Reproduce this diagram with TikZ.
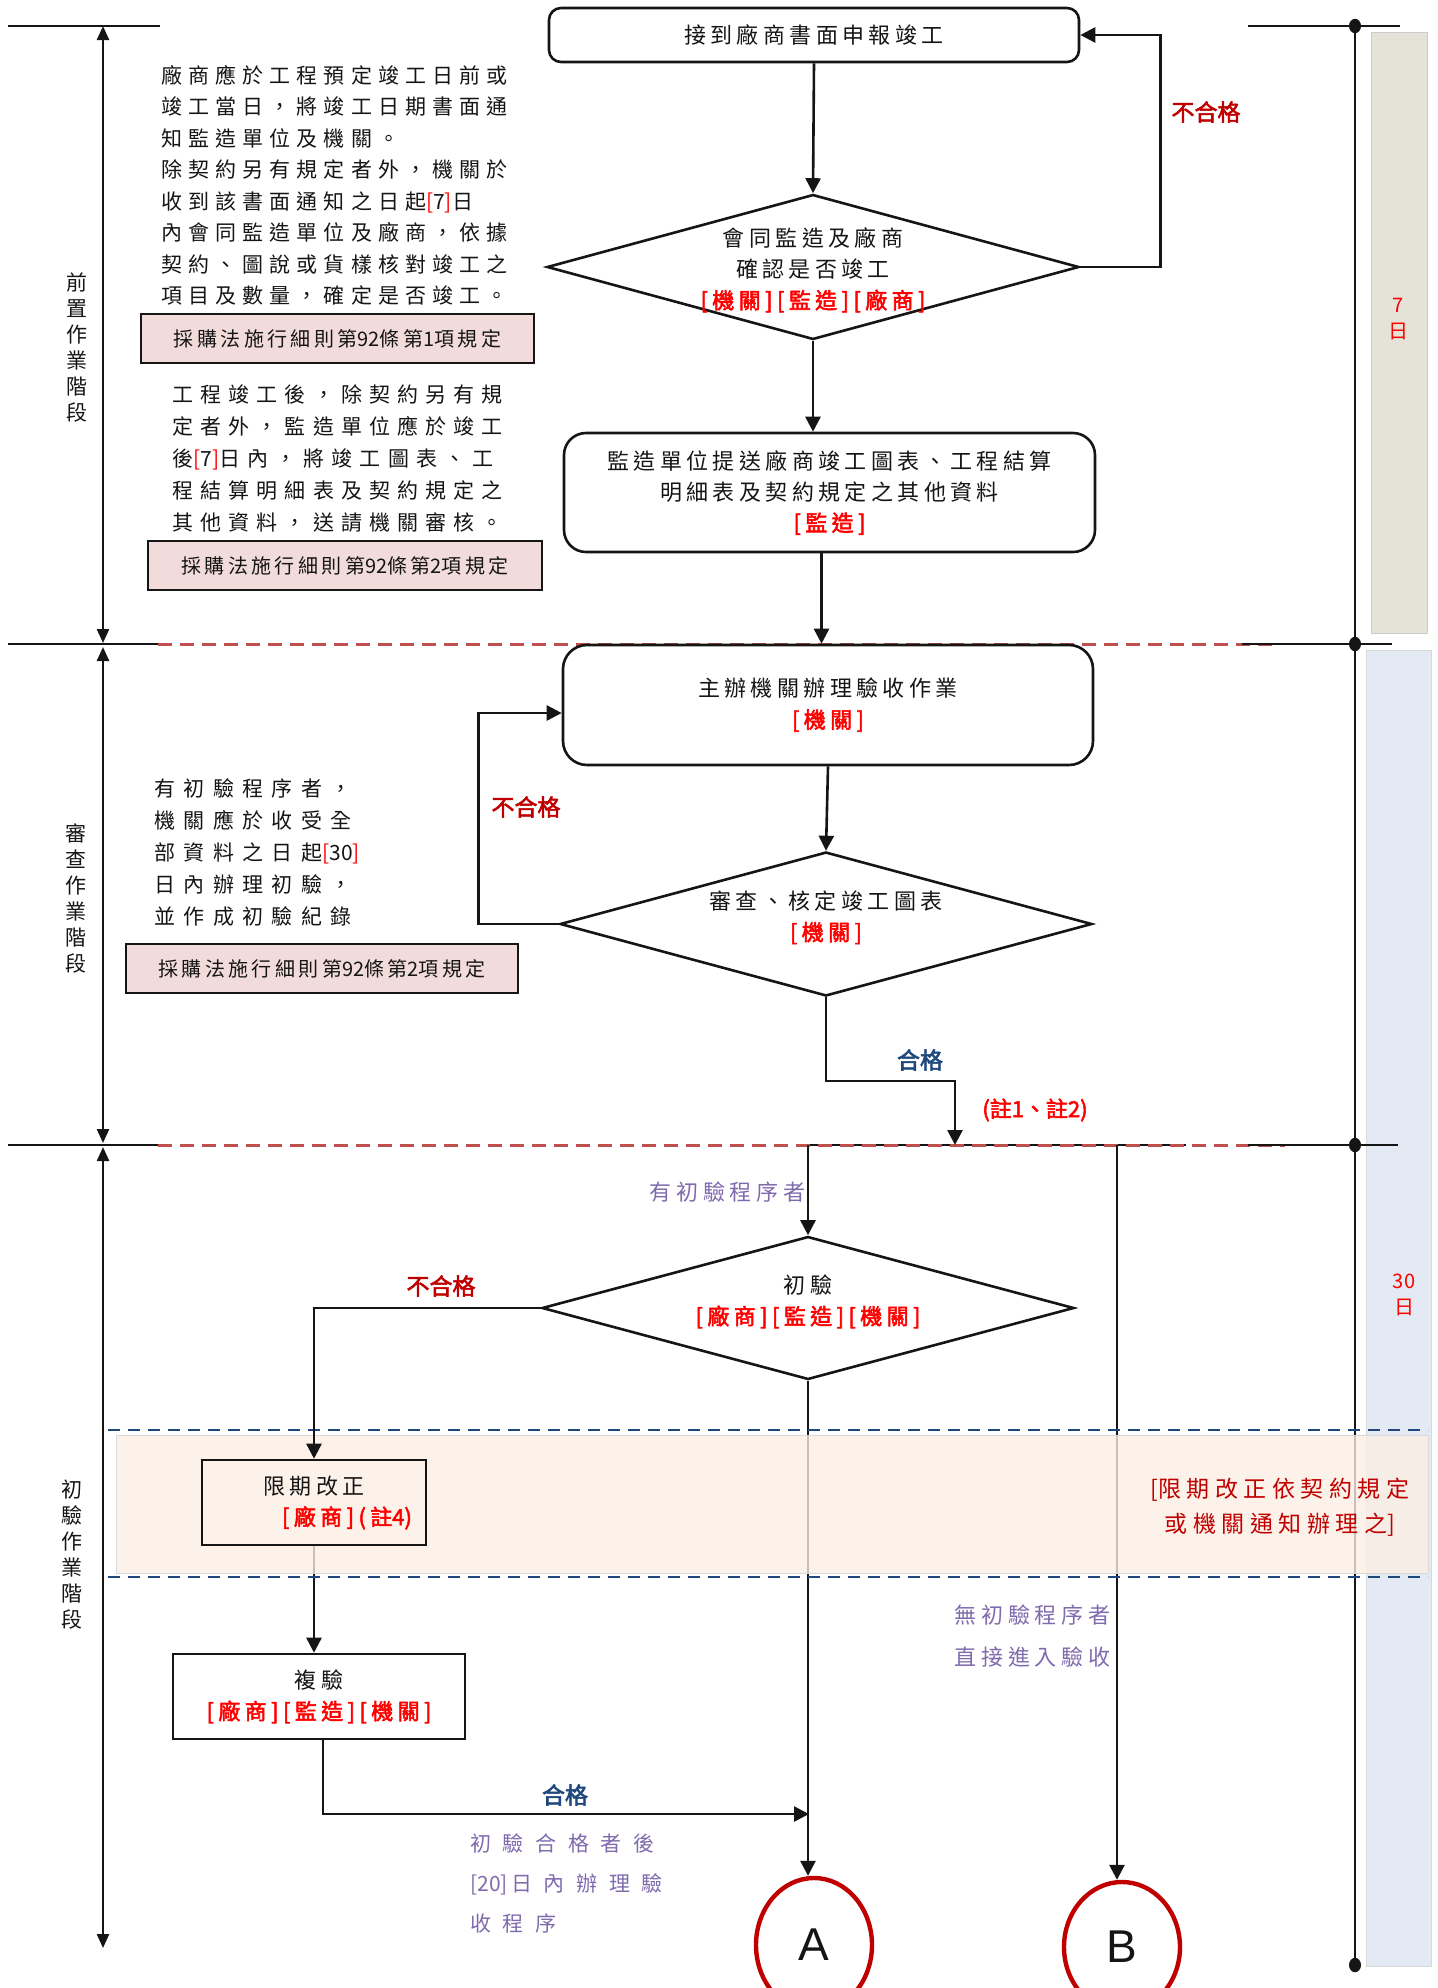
\documentclass[tikz,border=0pt]{standalone}
\usepackage{fontspec}
\setmainfont[AutoFakeBold=2.5]{Noto Sans CJK TC}
\newfontfamily\latinsans{Liberation Sans}
\usetikzlibrary{shapes.geometric,arrows.meta,calc}
\pgfdeclarelayer{bg}
\pgfdeclarelayer{lines}
\pgfdeclarelayer{band}
\pgfsetlayers{bg,lines,band,main}
\definecolor{darkred}{HTML}{C00000}
\definecolor{brightred}{HTML}{FF0000}
\definecolor{navy}{HTML}{1F497D}
\definecolor{lav}{HTML}{7F6AAE}
\definecolor{pinkfill}{HTML}{F2DCDB}
\definecolor{beige}{HTML}{E5E2D7}
\definecolor{paleblue}{HTML}{E3EAF3}
\definecolor{peach}{HTML}{FDEEE4}
\definecolor{dashred}{HTML}{C0504D}
\definecolor{ink}{HTML}{151515}
\newcommand\lsp[1]{\addfontfeatures{LetterSpace=#1}}
\newcommand\nls[1]{{\addfontfeatures{LetterSpace=0}#1}}
\newcommand\redlab[1]{\textcolor{brightred}{\bfseries #1}}
\newcommand\rbr[1]{{\addfontfeatures{LetterSpace=0}\textcolor{brightred}{[}#1\textcolor{brightred}{]}}}
\tikzset{
  ln/.style={line width=1.3pt, draw=ink},
  arr/.style={ln, -{Triangle[length=7.5pt,width=7.5pt]}},
  axarr/.style={line width=1.2pt, draw=ink, {Triangle[length=7pt,width=6pt]}-{Triangle[length=7pt,width=6pt]}},
  flowtext/.style={font=\fontsize{11pt}{15.5pt}\selectfont\lsp{20}, text=ink, align=center},
  rbox/.style={draw=ink, line width=1.3pt, rounded corners=#1, inner sep=0pt, fill=white},
  sbox/.style={draw=ink, line width=1.3pt, inner sep=0pt},
  dia/.style={diamond, draw=ink, line width=1.3pt, inner sep=0pt, fill=white},
  law/.style={draw=ink, line width=1.3pt, fill=pinkfill, inner sep=0pt, text=ink, font=\fontsize{10pt}{12pt}\selectfont\lsp{17}},
  blk/.style={inner sep=0pt, align=left, text=ink},
  phase/.style={font=\fontsize{10.5pt}{13pt}\selectfont, align=center, text=ink, inner sep=0pt},
  nglab/.style={font=\fontsize{11.5pt}{14pt}\selectfont\bfseries, text=darkred, inner sep=0pt},
  oklab/.style={font=\fontsize{11.5pt}{14pt}\selectfont\bfseries, text=navy, inner sep=0pt},
  lavt/.style={text=lav, inner sep=0pt, align=left},
  daylab/.style={font=\fontsize{10pt}{13pt}\selectfont, text=brightred, align=center, inner sep=0pt},
  conn/.style={ellipse, draw=darkred, line width=2.2pt, inner sep=0pt, text=ink, font=\latinsans\fontsize{23pt}{25pt}\selectfont},
  reddash/.style={draw=dashred, line width=1.5pt, dash pattern=on 7pt off 4pt},
  bluedash/.style={draw=navy, line width=1.3pt, dash pattern=on 6pt off 4pt},
}
\begin{document}
\begin{tikzpicture}[x=0.5pt,y=-0.5pt]
\useasboundingbox (0,0) rectangle (1437,1988);

% ---------- flow nodes ----------
\node[rbox=6pt, minimum width=265pt, minimum height=27pt, flowtext] (box1) at (814,35) {接到廠商書面申報竣工};
\node[dia, minimum width=266pt, minimum height=72.5pt] (dia1) at (813,267) {};
\node[flowtext] (dia1t) at (813,270) {會同監造及廠商\\確認是否竣工\\\redlab{[機關][監造][廠商]}};
\node[rbox=11pt, minimum width=265.5pt, minimum height=59.5pt, flowtext] (box2) at (829.5,492.5) {監造單位提送廠商竣工圖表、工程結算\\明細表及契約規定之其他資料\\\redlab{[監造]}};
\node[rbox=12pt, minimum width=265pt, minimum height=60pt, flowtext] (box3) at (828,705) {主辦機關辦理驗收作業\\\redlab{[機關]}};
\node[dia, minimum width=266pt, minimum height=72pt] (dia2) at (826,924) {};
\node[flowtext] (dia2t) at (826,917.5) {審查、核定竣工圖表\\\redlab{[機關]}};
\node[dia, minimum width=266pt, minimum height=71.5pt] (dia3) at (808,1308) {};
\node[flowtext] (dia3t) at (808,1301.5) {初驗\\\redlab{[廠商][監造][機關]}};
\node[sbox, minimum width=112pt, minimum height=42.5pt, flowtext] (box4) at (314,1502.5) {限期改正\\\hspace*{33pt}\redlab{[廠商](註\nls{4})}};
\node[sbox, fill=white, minimum width=146pt, minimum height=42.5pt, flowtext] (box5) at (319,1696.5) {複驗\\\redlab{[廠商][監造][機關]}};
\node[conn, minimum width=58pt, minimum height=67pt] (circA) at (814,1945) {A};
\node[conn, minimum width=58pt, minimum height=65pt] (circB) at (1122,1947) {B};

% ---------- side texts ----------
\node[phase] (ph1) at (77,347) {前\\置\\作\\業\\階\\段};
\node[phase] (ph2) at (76,898) {審\\查\\作\\業\\階\\段};
\node[phase] (ph3) at (72,1555) {初\\驗\\作\\業\\階\\段};

\node[blk, anchor=west, font=\fontsize{10.5pt}{15.75pt}\selectfont\lsp{29}] (note1) at (161,185.5) {廠商應於工程預定竣工日前或\\竣工當日，將竣工日期書面通\\知監造單位及機關。\\除契約另有規定者外，機關於\\收到該書面通知之日起\rbr{7}日\\內會同監造單位及廠商，依據\\契約、圖說或貨樣核對竣工之\\項目及數量，確定是否竣工。};
\node[law, minimum width=196.5pt, minimum height=24.5pt] (law1) at (337.5,338.5) {採購法施行細則第\nls{92}條第\nls{1}項規定};
\node[blk, anchor=west, font=\fontsize{10.5pt}{16pt}\selectfont\lsp{34}] (note2) at (172,459) {工程竣工後，除契約另有規\\定者外，監造單位應於竣工\\後\rbr{7}日內，將竣工圖表、工\\程結算明細表及契約規定之\\其他資料，送請機關審核。};
\node[law, minimum width=197pt, minimum height=24.5pt] (law2) at (345,565.5) {採購法施行細則第\nls{92}條第\nls{2}項規定};
\node[blk, anchor=west, font=\fontsize{10.5pt}{16pt}\selectfont\lsp{40}] (note3) at (154,852) {有初驗程序者，\\機關應於收受全\\部資料之日起\rbr{30}\\日內辦理初驗，\\並作成初驗紀錄};
\node[law, minimum width=196pt, minimum height=24.5pt] (law3) at (322,968.5) {採購法施行細則第\nls{92}條第\nls{2}項規定};

\node[lavt, anchor=east, font=\fontsize{11pt}{14pt}\selectfont\lsp{22}] (pre1) at (806,1192) {有初驗程序者};
\node[lavt, anchor=west, font=\fontsize{11pt}{21pt}\selectfont\lsp{22}] (pre2) at (954,1636) {無初驗程序者\\直接進入驗收};
\node[lavt, anchor=west, font=\fontsize{10.5pt}{20pt}\selectfont\lsp{55}] (pre3) at (470,1883) {初驗合格者後\\\nls{[20]\,}日內辦理驗\\收程序};
\node[text=darkred, align=center, inner sep=0pt, font=\fontsize{11.5pt}{17.5pt}\selectfont\lsp{24}] (bandnote) at (1280,1507.5) {\nls{[}限期改正依契約規定\\或機關通知辦理之\nls{]}};

\node[daylab] (d7) at (1398,319) {7\\日};
\node[daylab] (d30) at (1404,1294.5) {30\\日};

\node[nglab] (ng1) at (1206,112) {不合格};
\node[nglab] (ng2) at (526,807) {不合格};
\node[nglab] (ng3) at (441,1286) {不合格};
\node[oklab] (ok1) at (920,1060) {合格};
\node[oklab] (ok2) at (565,1795) {合格};
\node[font=\fontsize{11pt}{14pt}\selectfont\bfseries, text=brightred, inner sep=0pt] (note12) at (1035,1110) {(註1、註2)};

% connector that lies above the band
\draw[arr] (dia3.west) -| (box4.north);

% ---------- background columns ----------
\begin{pgfonlayer}{bg}
\path[fill=beige, draw=black!20, line width=0.5pt] (1371,32) rectangle (1427,633);
\path[fill=paleblue, draw=black!15, line width=0.5pt] (1366,650) rectangle (1431,1966);
\end{pgfonlayer}

% ---------- band ----------
\begin{pgfonlayer}{band}
\path[fill=peach, fill opacity=0.78, draw=black!15, line width=0.5pt] (116,1435) rectangle (1428,1573);
\draw[bluedash] (108,1430) -- (1428,1430);
\draw[bluedash] (108,1577) -- (1428,1577);
\end{pgfonlayer}

% ---------- lines ----------
\begin{pgfonlayer}{lines}
% phase axis
\coordinate (L0) at (103,26);
\coordinate (L1) at (103,643);
\coordinate (L2) at (103,647);
\coordinate (L3) at (103,1143);
\coordinate (L4) at (103,1147);
\coordinate (L5) at (103,1948);
\draw[axarr] (L0) -- (L1);
\draw[axarr] (L2) -- (L3);
\draw[axarr] (L4) -- (L5);
\draw[ln] (8,26) -- (160,26);
\draw[ln] (8,644) -- (158,644);
\draw[ln] (8,1145) -- (158,1145);
% junction under the dashed line
\coordinate (jA) at (808,1145);
\coordinate (jB) at (1117,1145);
\draw[ln] (jA) -- (1186,1145);
\draw[reddash] (158,644) -- (1278,644);
\draw[reddash] (158,1145) -- (1285,1145);
% right time line
\draw[ln] (1248,26) -- (1400,26);
\draw[ln] (1242,644) -- (1392,644);
\draw[ln] (1248,1145) -- (1398,1145);
\draw[ln] (1355,26) -- (1355,1965);
\fill[ink] (1355,26) ellipse (3pt and 3.6pt);
\fill[ink] (1355,644) ellipse (3pt and 3.6pt);
\fill[ink] (1355,1145) ellipse (3pt and 3.6pt);
\fill[ink] (1355,1965) ellipse (3pt and 3.6pt);
% connectors
\draw[arr] (box1.south) -- (dia1.north);
\draw[arr] (dia1.east) -- ++(80,0) |- (box1.east);
\draw[arr] (dia1.south) -- (dia1.south |- box2.north);
\draw[arr] ($(box2.south)+(-8,0)$) -- ($(box2.south |- box3.north)+(-8,0)$);
\draw[arr] (dia2.west) -- ++(-80,0) |- ($(box3.west)+(0,8)$);
\draw[arr] (box3.south) -- (dia2.north);
\coordinate (jn) at (955,1145);
\draw[arr] (dia2.south) |- ($(jn)+(0,-64)$) -- (jn);
\draw[arr] (jA) -- (dia3.north);
\draw[arr] (jB) -- (jB |- circB.north);
\draw[arr] (dia3.south) -- (dia3.south |- circA.north);
\draw[arr] (box4.south) -- (box4.south |- box5.north);
\coordinate (mA) at (809,1814);
\draw[arr] ($(box5.south)+(4,0)$) |- (mA);
\end{pgfonlayer}
\end{tikzpicture}
\end{document}
